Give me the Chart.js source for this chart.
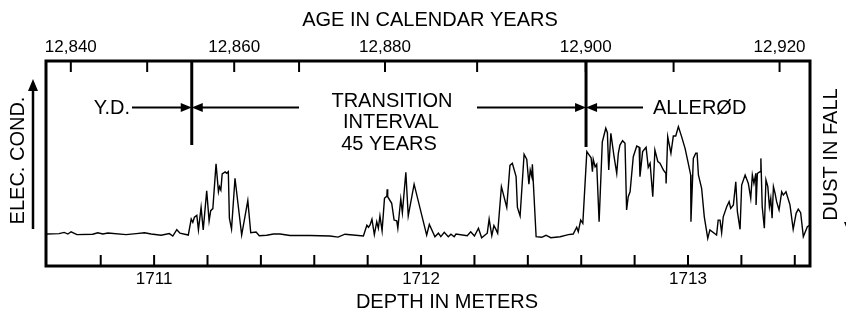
<!DOCTYPE html>
<html>
<head>
<meta charset="utf-8">
<script src="https://cdn.jsdelivr.net/npm/chart.js@4.4.1/dist/chart.umd.min.js"></script>
<style>
  body { margin: 0; background: #fff; }
  #wrap { width: 846px; height: 316px; }
</style>
</head>
<body>
<div id="wrap"><canvas id="iceChart" width="846" height="316"></canvas></div>
<script>
const FONT = '"Liberation Sans", Arial, sans-serif';

// depth down the core (m) and dust level (relative units, no scale shown)
const depthM = [
  1710.596, 1710.644, 1710.663, 1710.677, 1710.689, 1710.711, 1710.770, 1710.789, 1710.808, 1710.827,
  1710.895, 1710.933, 1710.964, 1710.989, 1711.026, 1711.057, 1711.070, 1711.085, 1711.097, 1711.128,
  1711.139, 1711.145, 1711.151, 1711.160, 1711.166, 1711.176, 1711.184, 1711.197, 1711.206, 1711.212,
  1711.220, 1711.232, 1711.241, 1711.245, 1711.250, 1711.255, 1711.266, 1711.272, 1711.278, 1711.282,
  1711.290, 1711.303, 1711.328, 1711.351, 1711.362, 1711.382, 1711.394, 1711.422, 1711.447, 1711.472,
  1711.509, 1711.584, 1711.659, 1711.689, 1711.715, 1711.784, 1711.797, 1711.803, 1711.809, 1711.816,
  1711.825, 1711.834, 1711.840, 1711.846, 1711.854, 1711.863, 1711.872, 1711.873, 1711.875, 1711.890,
  1711.899, 1711.909, 1711.913, 1711.924, 1711.930, 1711.943, 1711.952, 1711.974, 1712.021, 1712.031,
  1712.052, 1712.065, 1712.074, 1712.087, 1712.102, 1712.112, 1712.124, 1712.131, 1712.173, 1712.186,
  1712.200, 1712.215, 1712.227, 1712.248, 1712.255, 1712.265, 1712.273, 1712.280, 1712.287, 1712.301,
  1712.321, 1712.333, 1712.342, 1712.356, 1712.361, 1712.371, 1712.386, 1712.396, 1712.404, 1712.409,
  1712.415, 1712.417, 1712.431, 1712.452, 1712.468, 1712.486, 1712.521, 1712.552, 1712.570, 1712.583,
  1712.589, 1712.598, 1712.606, 1712.621, 1712.630, 1712.637, 1712.642, 1712.645, 1712.652, 1712.658,
  1712.667, 1712.679, 1712.692, 1712.698, 1712.703, 1712.711, 1712.723, 1712.733, 1712.739, 1712.745,
  1712.755, 1712.764, 1712.770, 1712.776, 1712.783, 1712.795, 1712.808, 1712.817, 1712.820, 1712.830,
  1712.843, 1712.851, 1712.858, 1712.868, 1712.876, 1712.887, 1712.895, 1712.908, 1712.917, 1712.918,
  1712.924, 1712.936, 1712.945, 1712.954, 1712.964, 1712.976, 1712.989, 1713.001, 1713.010, 1713.011,
  1713.020, 1713.029, 1713.034, 1713.039, 1713.051, 1713.061, 1713.074, 1713.082, 1713.107, 1713.113,
  1713.120, 1713.126, 1713.132, 1713.145, 1713.154, 1713.160, 1713.170, 1713.179, 1713.185, 1713.195,
  1713.201, 1713.214, 1713.226, 1713.235, 1713.241, 1713.247, 1713.254, 1713.255, 1713.260, 1713.270,
  1713.273, 1713.278, 1713.286, 1713.292, 1713.299, 1713.305, 1713.310, 1713.315, 1713.320, 1713.326,
  1713.332, 1713.341, 1713.351, 1713.357, 1713.367, 1713.382, 1713.394, 1713.405, 1713.413, 1713.422,
  1713.432, 1713.447, 1713.457
];

const dustLevel = [
  15.6, 15.8, 16.4, 15.6, 16.7, 15.3, 15.5, 16.2, 15.6, 16.1,
  15.3, 15.8, 16.2, 15.6, 15.0, 15.8, 14.6, 17.7, 16.0, 15.1,
  22.9, 21.3, 23.8, 24.7, 17.6, 28.6, 17.6, 36.7, 22.0, 27.0,
  28.0, 49.8, 36.2, 38.7, 37.1, 44.9, 45.9, 45.2, 46.0, 23.3,
  18.0, 42.8, 15.1, 31.9, 16.2, 16.6, 14.8, 15.0, 15.6, 15.6,
  14.9, 14.9, 14.6, 14.1, 15.5, 14.6, 19.9, 18.9, 20.0, 22.8,
  15.3, 21.6, 18.4, 24.4, 17.2, 33.0, 34.1, 37.4, 33.8, 30.6,
  22.4, 22.0, 18.4, 32.7, 26.0, 45.7, 24.4, 39.9, 15.1, 20.3,
  14.3, 16.0, 14.3, 16.4, 14.3, 15.5, 14.3, 15.6, 14.8, 16.7,
  14.6, 18.4, 13.8, 16.0, 22.9, 14.8, 19.7, 18.0, 16.0, 38.7,
  28.6, 49.1, 50.1, 43.6, 28.6, 24.4, 54.5, 52.0, 39.9, 46.8,
  43.6, 49.6, 14.3, 14.0, 15.0, 13.8, 14.3, 15.3, 15.6, 18.9,
  16.7, 22.4, 20.8, 55.8, 54.1, 52.8, 46.0, 52.0, 48.4, 49.6,
  21.6, 60.6, 67.2, 65.0, 46.8, 64.7, 53.3, 45.2, 55.0, 59.0,
  61.1, 59.9, 27.3, 33.8, 36.2, 53.3, 58.5, 57.9, 43.6, 55.8,
  57.9, 48.1, 50.1, 33.8, 56.6, 50.9, 50.1, 46.8, 45.2, 40.3,
  63.1, 55.0, 63.4, 63.4, 68.0, 63.1, 57.4, 50.1, 44.4, 21.6,
  52.5, 55.0, 55.0, 44.4, 37.9, 24.0, 13.5, 17.6, 15.1, 22.4,
  22.4, 16.2, 24.0, 28.9, 31.4, 28.1, 29.8, 41.1, 26.5, 17.9,
  39.5, 44.4, 40.3, 33.0, 44.4, 40.3, 45.2, 29.8, 45.2, 46.0,
  52.5, 28.9, 18.4, 42.0, 38.7, 28.9, 33.0, 23.3, 38.7, 35.5,
  31.4, 27.3, 36.2, 34.6, 36.2, 29.8, 17.9, 25.7, 27.7, 26.0,
  14.3, 19.2, 20.0
];

// bottom axis: depth ticks every 0.2 m, labels on whole metres
const depthTicks = [1710.8, 1711.0, 1711.2, 1711.4, 1711.6, 1711.8, 1712.0, 1712.2, 1712.4, 1712.6, 1712.8, 1713.0, 1713.2, 1713.4];
const depthTickLabels = ['', '1711', '', '', '', '', '1712', '', '', '', '', '1713', '', ''];

// top axis: calendar age ticks (every 10 yr), placed at the depth they fall on
const ageTickDepths = [1710.688, 1710.974, 1711.300, 1711.543, 1711.865, 1712.210, 1712.617, 1712.946, 1713.343];
const ageTickLabels = ['12,840', '', '12,860', '', '12,880', '', '12,900', '', '12,920'];

// transition boundaries (depth)
const ydBoundary = 1711.141;
const alleroedBoundary = 1712.618;

const depthMin = 1710.595;
const depthMax = 1713.457;

function line(ctx, x1, y1, x2, y2) {
  ctx.beginPath();
  ctx.moveTo(x1, y1);
  ctx.lineTo(x2, y2);
  ctx.stroke();
}

function headH(ctx, tipX, y, dir) {
  ctx.beginPath();
  ctx.moveTo(tipX, y);
  ctx.lineTo(tipX - dir * 11, y - 4.5);
  ctx.lineTo(tipX - dir * 11, y + 4.5);
  ctx.closePath();
  ctx.fill();
}

function headV(ctx, x, tipY, dir) {
  ctx.beginPath();
  ctx.moveTo(x, tipY);
  ctx.lineTo(x - 5, tipY - dir * 12);
  ctx.lineTo(x + 5, tipY - dir * 12);
  ctx.closePath();
  ctx.fill();
}

const decorations = {
  id: 'decorations',
  afterDraw(chart) {
    const { ctx, chartArea: a, scales } = chart;
    ctx.save();
    ctx.strokeStyle = '#000';
    ctx.fillStyle = '#000';

    // plot frame
    ctx.lineWidth = 3;
    ctx.strokeRect(a.left, a.top, a.right - a.left, a.bottom - a.top);

    // inward ticks
    ctx.lineWidth = 2;
    scales.x.ticks.forEach(t => {
      const px = scales.x.getPixelForValue(t.value);
      line(ctx, px, a.bottom, px, a.bottom - 11);
    });
    scales.xAge.ticks.forEach(t => {
      const px = scales.xAge.getPixelForValue(t.value);
      line(ctx, px, a.top, px, a.top + 11);
    });

    // boundary markers
    const ydX = scales.x.getPixelForValue(ydBoundary);
    const alX = scales.x.getPixelForValue(alleroedBoundary);
    ctx.lineWidth = 3;
    line(ctx, ydX, a.top, ydX, 145);
    line(ctx, alX, a.top, alX, 147);

    // arrows pointing at the boundaries
    const ay = 107.5;
    ctx.lineWidth = 2;
    line(ctx, 132, ay, ydX - 8, ay);
    headH(ctx, ydX, ay, 1);
    line(ctx, ydX + 8, ay, 299, ay);
    headH(ctx, ydX, ay, -1);
    line(ctx, 477, ay, alX - 8, ay);
    headH(ctx, alX, ay, 1);
    line(ctx, alX + 8, ay, 643, ay);
    headH(ctx, alX, ay, -1);

    // side arrows
    ctx.lineWidth = 2.5;
    line(ctx, 33, 229, 33, 88);
    headV(ctx, 33, 79, -1);
    line(ctx, 849, 80, 849, 224);
    headV(ctx, 849, 234, 1);

    // text
    ctx.font = '20px ' + FONT;
    ctx.textBaseline = 'alphabetic';
    ctx.textAlign = 'center';
    ctx.fillText('AGE IN CALENDAR YEARS', 430, 26);
    ctx.fillText('DEPTH IN METERS', 447, 308);
    ctx.fillText('TRANSITION', 392, 106.5);
    ctx.fillText('INTERVAL', 391, 128);
    ctx.fillText('45 YEARS', 389, 149.5);
    ctx.textAlign = 'right';
    ctx.fillText('Y.D.', 130, 114);
    ctx.textAlign = 'left';
    ctx.fillText('ALLERØD', 653, 114);

    ctx.textAlign = 'center';
    ctx.save();
    ctx.translate(24, 160.5);
    ctx.rotate(-Math.PI / 2);
    ctx.fillText('ELEC. COND.', 0, 0);
    ctx.restore();
    ctx.save();
    ctx.translate(837, 154.5);
    ctx.rotate(-Math.PI / 2);
    ctx.fillText('DUST IN FALL', 0, 0);
    ctx.restore();

    ctx.restore();
  }
};

Chart.defaults.font.family = FONT;
Chart.defaults.color = '#000';

new Chart(document.getElementById('iceChart'), {
  type: 'line',
  data: {
    datasets: [{
      label: 'Dust',
      data: depthM.map((d, i) => ({ x: d, y: dustLevel[i] })),
      borderColor: '#000',
      borderWidth: 1.4,
      pointRadius: 0,
      tension: 0,
      fill: false,
      xAxisID: 'x',
      yAxisID: 'y',
    }],
  },
  options: {
    responsive: false,
    animation: false,
    layout: { padding: { left: 46, right: 36, top: 0, bottom: 0 } },
    plugins: {
      legend: { display: false },
      tooltip: { enabled: false },
    },
    scales: {
      x: {
        type: 'linear',
        position: 'bottom',
        min: depthMin,
        max: depthMax,
        grid: { display: false, drawTicks: false },
        border: { display: false },
        afterBuildTicks: s => { s.ticks = depthTicks.map(v => ({ value: v })); },
        afterFit: s => { s.height = 50; },
        ticks: {
          autoSkip: false,
          maxRotation: 0,
          padding: 3,
          font: { size: 17 },
          callback: (v, i) => depthTickLabels[i],
        },
      },
      xAge: {
        type: 'linear',
        position: 'top',
        min: depthMin,
        max: depthMax,
        grid: { display: false, drawTicks: false },
        border: { display: false },
        afterBuildTicks: s => { s.ticks = ageTickDepths.map(v => ({ value: v })); },
        afterFit: s => { s.height = 61; },
        ticks: {
          autoSkip: false,
          maxRotation: 0,
          padding: 3,
          font: { size: 17 },
          callback: (v, i) => ageTickLabels[i],
        },
      },
      y: {
        display: false,
        min: 0,
        max: 100,
      },
    },
  },
  plugins: [decorations],
});
</script>
</body>
</html>
